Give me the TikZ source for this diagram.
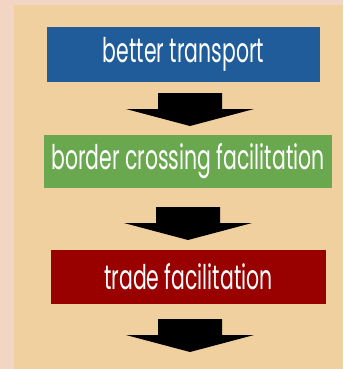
\documentclass[tikz,border=0pt]{standalone}
\usepackage{fontspec}
\usepackage{tikz}
\usetikzlibrary{positioning,calc}
\newfontfamily\boxfont[FakeStretch=0.6]{Poppins}
\definecolor{pagepink}{HTML}{F2D5C3}
\definecolor{paneltan}{HTML}{EFD09E}
\definecolor{stepblue}{HTML}{1F5C99}
\definecolor{stepgreen}{HTML}{6AA84F}
\definecolor{stepred}{HTML}{990000}
\tikzset{
    stepbox/.style={minimum height=54pt, inner sep=0pt, text=white, font=\boxfont\fontsize{34}{38}\selectfont},
    downarrow/.pic={\fill[black] (-32,0) -- (32,0) -- (32,16) -- (64,16) -- (0,33) -- (-64,16) -- (-32,16) -- cycle;}
}

\begin{document}
\begin{tikzpicture}[x=1pt, y=-1pt]
    \useasboundingbox (0,0) rectangle (343,369);
    \fill [pagepink] (0,0) rectangle (343,369);
    \fill [paneltan] (14,5) rectangle (343,369);

    % steps
    \node [stepbox, fill=stepblue, minimum width=273pt] (transport) at (183.5,54.5) {better transport};
    \node [stepbox, fill=stepgreen, minimum width=288pt, minimum height=53pt] (border) at (188,161.5) {border crossing facilitation};
    \node [stepbox, fill=stepred, minimum width=275pt] (trade) at (188.5,276.5) {trade facilitation};

    % arrows
    \foreach \x/\y in {190/93, 188/207, 190/319}
        \pic at (\x,\y) {downarrow};
\end{tikzpicture}
\end{document}
